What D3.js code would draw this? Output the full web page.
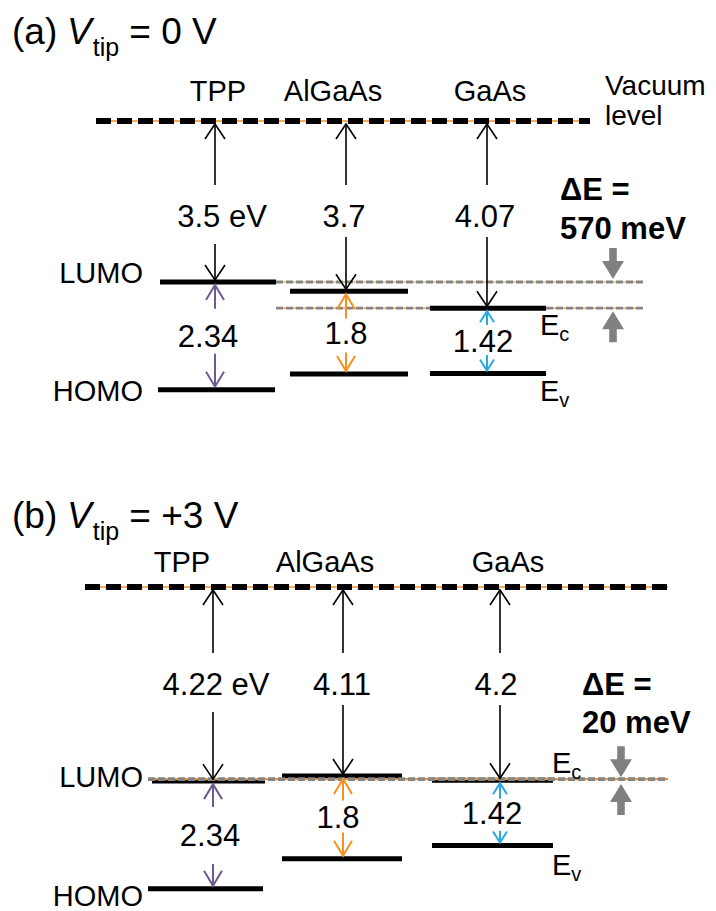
<!DOCTYPE html>
<html><head><meta charset="utf-8">
<script src="https://cdn.jsdelivr.net/npm/d3@7"></script>
<style>body{margin:0;background:#fff}svg{display:block;font-family:"Liberation Sans",Arial,sans-serif}</style>
</head><body>
<svg id="c" width="716" height="911"></svg>
<script>
// ---------- data ----------
const materials = ["TPP", "AlGaAs", "GaAs"];
const panelTags = ["(a)", "(b)"];
const tipVoltages = ["0 V", "+3 V"];
const vacuumToLumoA = [3.5, 3.7, 4.07];   // eV below vacuum level
const vacuumToLumoB = [4.22, 4.11, 4.2];
const bandGaps = [2.34, 1.8, 1.42];       // LUMO-HOMO / Ec-Ev
const vacLabelsA = ["3.5 eV", "3.7", "4.07"];
const vacLabelsB = ["4.22 eV", "4.11", "4.2"];
const gapLabels = ["2.34", "1.8", "1.42"];
const deltaELabels = ["570 meV", "20 meV"];

// ---------- layout ----------
const svg = d3.select("#c");
const gapColor = d3.scaleOrdinal().domain(materials).range(["#6f5a8e", "#f7901e", "#27aae1"]);

const panels = [
  { tag: panelTags[0], volt: tipVoltages[0], lumo: vacuumToLumoA, vlab: vacLabelsA, dE: deltaELabels[0],
    titleY: 44, vacY: 121, vacX: [96, 590], refX: [276, 643], refOnTop: false,
    barX: { TPP: [160, 276], AlGaAs: [290, 408], GaAs: [430, 546] }, homoBarX: [158, 275],
    arrowX: { TPP: 215, AlGaAs: 346, GaAs: 487 }, vlabDx: [7, -2, -2],
    matX: { TPP: 218, AlGaAs: 333, GaAs: 490 }, matY: 101, numY: 227,
    gapDx: [-7, 0, -4], gapUp: [27, 14, 16], gapDn: [18, 20, 14], showVacText: true,
    dEx: 560, dEy: [200, 239], grayX: 613,
    ecX: 540, ecDy: 27, evDy: 27, lumoDy: 1, homoDy: 11 },
  { tag: panelTags[1], volt: tipVoltages[1], lumo: vacuumToLumoB, vlab: vacLabelsB, dE: deltaELabels[1],
    titleY: 528, vacY: 587, vacX: [85, 668], refX: [148, 668], refOnTop: true,
    barX: { TPP: [152, 265], AlGaAs: [282, 402], GaAs: [432, 553] }, homoBarX: [148, 263],
    arrowX: { TPP: 213, AlGaAs: 343, GaAs: 500 }, vlabDx: [3, -1, -4],
    matX: { TPP: 182, AlGaAs: 325, GaAs: 508 }, matY: 572, numY: 695,
    gapDx: [-3, -5, -8], gapUp: [28, 17, 14], gapDn: [29, 15, 18], showVacText: false,
    dEx: 582, dEy: [695, 733], grayX: 621,
    ecX: 552, ecDy: -7, evDy: 29, lumoDy: 6, homoDy: 17 }
];

function head(g, x, y, dir, len, hw, color, w) {
  g.append("path")
    .attr("d", `M${x - hw},${y - dir * len}L${x},${y}L${x + hw},${y - dir * len}`)
    .attr("fill", "none").attr("stroke", color).attr("stroke-width", w);
}

function blockArrow(g, x, tipY, dir) {
  const L = 31, H = 18, sw = 3.8, hw = 11;
  const b = tipY - dir * L, h = tipY - dir * H;
  g.append("path")
    .attr("d", `M${x - sw},${b}L${x + sw},${b}L${x + sw},${h}L${x + hw},${h}L${x},${tipY}L${x - hw},${h}L${x - sw},${h}Z`)
    .attr("fill", "#808080");
}

panels.forEach(p => {
  const g = svg.append("g");
  const y = d3.scaleLinear().domain([0, 7]).range([p.vacY, p.vacY + 7 * 46]);

  // title
  const t = g.append("text").attr("x", 12).attr("y", p.titleY).attr("font-size", 37).attr("fill", "#000");
  t.append("tspan").text(p.tag);
  t.append("tspan").attr("x", 67).attr("font-style", "italic").text("V");
  t.append("tspan").attr("font-size", 25).attr("dy", 12).attr("dx", 1).text("tip");
  t.append("tspan").attr("dy", -12).text(" = " + p.volt);

  // material labels
  materials.forEach(m => {
    g.append("text").attr("x", p.matX[m]).attr("y", p.matY).attr("text-anchor", "middle")
      .attr("font-size", 29).text(m);
  });

  if (p.showVacText) {
    g.append("text").attr("x", 605).attr("y", 95).attr("font-size", 28).text("Vacuum");
    g.append("text").attr("x", 605).attr("y", 125).attr("font-size", 28).text("level");
  }

  // vacuum level
  g.append("line").attr("x1", p.vacX[0]).attr("x2", p.vacX[1]).attr("y1", y(0)).attr("y2", y(0))
    .attr("stroke", "#f7901e").attr("stroke-width", 1.6);
  g.append("line").attr("x1", p.vacX[0]).attr("x2", p.vacX[1]).attr("y1", y(0)).attr("y2", y(0))
    .attr("stroke", "#000").attr("stroke-width", 6).attr("stroke-dasharray", "15,6");

  // reference dashed levels (TPP LUMO and GaAs Ec)
  const refE = [p.lumo[0], p.lumo[2]];
  const off = p.refOnTop ? 1.5 : 0;
  const drawRefs = () => refE.forEach(e => {
    g.append("line").attr("x1", p.refX[0]).attr("x2", p.refX[1]).attr("y1", y(e) - off).attr("y2", y(e) - off)
      .attr("stroke", "#f7901e").attr("stroke-width", 1.2);
    g.append("line").attr("x1", p.refX[0]).attr("x2", p.refX[1]).attr("y1", y(e) - off).attr("y2", y(e) - off)
      .attr("stroke", "#858585").attr("stroke-width", 2.8).attr("stroke-dasharray", "7,3");
  });
  if (!p.refOnTop) drawRefs();

  // energy level bars
  materials.forEach((m, i) => {
    const bx = p.barX[m];
    const hx = i === 0 ? p.homoBarX : bx;
    g.append("line").attr("x1", bx[0]).attr("x2", bx[1]).attr("y1", y(p.lumo[i])).attr("y2", y(p.lumo[i]))
      .attr("stroke", "#000").attr("stroke-width", 5);
    g.append("line").attr("x1", hx[0]).attr("x2", hx[1]).attr("y1", y(p.lumo[i] + bandGaps[i])).attr("y2", y(p.lumo[i] + bandGaps[i]))
      .attr("stroke", "#000").attr("stroke-width", 5);
  });
  if (p.refOnTop) drawRefs();

  // vacuum -> LUMO arrows
  materials.forEach((m, i) => {
    const x = p.arrowX[m];
    const yTop = y(0) + 3, yBot = y(p.lumo[i]) - 2;
    const gap0 = p.numY - 42, gap1 = p.numY + (i === 0 ? 17 : 10);
    g.append("line").attr("x1", x).attr("x2", x).attr("y1", yTop).attr("y2", gap0).attr("stroke", "#000").attr("stroke-width", 1.6);
    g.append("line").attr("x1", x).attr("x2", x).attr("y1", gap1).attr("y2", yBot).attr("stroke", "#000").attr("stroke-width", 1.6);
    head(g, x, yTop, -1, 15, 10, "#000", 1.6);
    head(g, x, yBot, 1, 15, 10, "#000", 1.6);
    g.append("text").attr("x", x + p.vlabDx[i]).attr("y", p.numY).attr("text-anchor", "middle")
      .attr("font-size", 31).text(p.vlab[i]);
  });

  // band gap arrows
  materials.forEach((m, i) => {
    const x = p.arrowX[m];
    const c = gapColor(m);
    const yL = y(p.lumo[i]) + 3, yH = y(p.lumo[i] + bandGaps[i]) - 3;
    const mid = (y(p.lumo[i]) + y(p.lumo[i] + bandGaps[i])) / 2;
    const small = m === "GaAs";
    const up = mid - p.gapUp[i], dn = mid + p.gapDn[i];
    const len = small ? 11 : 15, hw = small ? 7 : 9;
    g.append("line").attr("x1", x).attr("x2", x).attr("y1", yL).attr("y2", up).attr("stroke", c).attr("stroke-width", 2);
    g.append("line").attr("x1", x).attr("x2", x).attr("y1", dn).attr("y2", yH).attr("stroke", c).attr("stroke-width", 2);
    head(g, x, yL, -1, len, hw, c, 2);
    head(g, x, yH, 1, len, hw, c, 2);
    g.append("text").attr("x", x + p.gapDx[i]).attr("y", mid + 11).attr("text-anchor", "middle")
      .attr("font-size", 31).text(gapLabels[i]);
  });

  // LUMO / HOMO labels
  g.append("text").attr("x", 143).attr("y", y(p.lumo[0]) + p.lumoDy).attr("text-anchor", "end").attr("font-size", 29).text("LUMO");
  g.append("text").attr("x", 143).attr("y", y(p.lumo[0] + bandGaps[0]) + p.homoDy).attr("text-anchor", "end").attr("font-size", 29).text("HOMO");

  // Ec / Ev labels
  const ec = g.append("text").attr("x", p.ecX).attr("y", y(p.lumo[2]) + p.ecDy).attr("font-size", 29);
  ec.append("tspan").text("E");
  ec.append("tspan").attr("font-size", 20).attr("dy", 6).text("c");
  const ev = g.append("text").attr("x", p.ecX).attr("y", y(p.lumo[2] + bandGaps[2]) + p.evDy).attr("font-size", 29);
  ev.append("tspan").text("E");
  ev.append("tspan").attr("font-size", 20).attr("dy", 6).text("v");

  // Delta E annotation
  g.append("text").attr("x", p.dEx).attr("y", p.dEy[0]).attr("font-size", 31).attr("font-weight", "bold").text("\u0394E =");
  g.append("text").attr("x", p.dEx).attr("y", p.dEy[1]).attr("font-size", 31).attr("font-weight", "bold").text(p.dE);
  const yUp = Math.min(y(refE[0]), y(refE[1])), yLo = Math.max(y(refE[0]), y(refE[1]));
  blockArrow(g, p.grayX, yUp - 3, 1);
  blockArrow(g, p.grayX, yLo + 3, -1);
});
</script>
</body></html>
